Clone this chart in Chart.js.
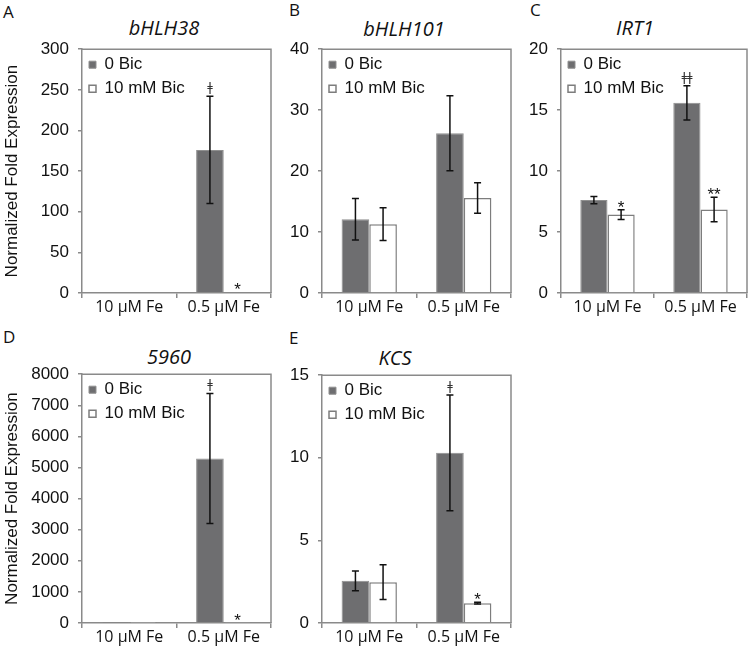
<!DOCTYPE html>
<html><head><meta charset="utf-8">
<script src="https://cdn.jsdelivr.net/npm/chart.js@4.4.1/dist/chart.umd.min.js"></script>
<style>
html,body{margin:0;padding:0;background:#fff;}
#wrap{position:relative;width:750px;height:650px;overflow:hidden;}
canvas{position:absolute;}
.lbl{position:absolute;font-family:'Open Sans',sans-serif;font-size:17px;color:#111;line-height:1;white-space:nowrap;}
.ttl{position:absolute;font-family:'Open Sans',sans-serif;font-style:italic;font-size:20px;color:#111;line-height:1;white-space:nowrap;transform:translateX(-50%);}
</style></head><body>
<div id="wrap">
  <div class="lbl" style="left:3px;top:3px">A</div>
  <div class="lbl" style="left:289px;top:1px">B</div>
  <div class="lbl" style="left:530px;top:1px">C</div>
  <div class="lbl" style="left:3px;top:328px">D</div>
  <div class="lbl" style="left:289px;top:329px">E</div>
  <div class="ttl" style="left:164px;top:18px">bHLH38</div>
  <div class="ttl" style="left:404px;top:19px">bHLH101</div>
  <div class="ttl" style="left:635px;top:18px">IRT1</div>
  <div class="ttl" style="left:169px;top:347px">5960</div>
  <div class="ttl" style="left:395px;top:348px">KCS</div>
  <canvas id="cA"></canvas>
  <canvas id="cB"></canvas>
  <canvas id="cC"></canvas>
  <canvas id="cD"></canvas>
  <canvas id="cE"></canvas>
</div>
<script>
// ---------- DATA ----------
const categories = ['10 µM Fe', '0.5 µM Fe'];
const seriesNames = ['0 Bic', '10 mM Bic'];
const yTitle = 'Normalized Fold Expression';

// bHLH38 (A)
const bHLH38_ctrl = [1.0, 176];
const bHLH38_ctrlErr = [0, 66];
const bHLH38_bic = [1.0, 1.2];
const bHLH38_bicErr = [0, 0];
const bHLH38_ctrlMarks = ['', 'ǂ'];
const bHLH38_bicMarks = ['', '*'];
const bHLH38_ticks = [0, 50, 100, 150, 200, 250, 300];

// bHLH101 (B)
const bHLH101_ctrl = [12.1, 26.2];
const bHLH101_ctrlErr = [3.4, 6.15];
const bHLH101_bic = [11.3, 15.6];
const bHLH101_bicErr = [2.7, 2.5];
const bHLH101_ctrlMarks = ['', ''];
const bHLH101_bicMarks = ['', ''];
const bHLH101_ticks = [0, 10, 20, 30, 40];

// IRT1 (C)
const IRT1_ctrl = [7.62, 15.6];
const IRT1_ctrlErr = [0.3, 1.4];
const IRT1_bic = [6.43, 6.85];
const IRT1_bicErr = [0.4, 1.0];
const IRT1_ctrlMarks = ['', 'ǂǂ'];
const IRT1_bicMarks = ['*', '**'];
const IRT1_ticks = [0, 5, 10, 15, 20];

// 5960 (D)
const g5960_ctrl = [10, 5290];
const g5960_ctrlErr = [0, 2090];
const g5960_bic = [10, 15];
const g5960_bicErr = [0, 0];
const g5960_ctrlMarks = ['', 'ǂ'];
const g5960_bicMarks = ['', '*'];
const g5960_ticks = [0, 1000, 2000, 3000, 4000, 5000, 6000, 7000, 8000];

// KCS (E)
const KCS_ctrl = [2.55, 10.3];
const KCS_ctrlErr = [0.6, 3.5];
const KCS_bic = [2.47, 1.2];
const KCS_bicErr = [1.05, 0.05];
const KCS_ctrlMarks = ['', 'ǂ'];
const KCS_bicMarks = ['', '*'];
const KCS_ticks = [0, 5, 10, 15];

// ---------- STYLE ----------
const AXIS_COLOR = '#8a8a8a';
const DARK = '#6e6e70';
const DARK_BORDER = '#8f8f8f';
const LIGHT_BORDER = '#7d7d7d';
Chart.defaults.font.family = "'Liberation Sans', Arial, sans-serif";
Chart.defaults.color = '#111';

const frame = {
  id: 'frame',
  afterLayout(chart) {
    // keep the in-plot legend inside the plot area
    const lg = chart.legend;
    if (lg) {
      const dy = chart.chartArea.top - lg.top;
      lg.top += dy; lg.bottom += dy;
      const dx = chart.chartArea.left - lg.left;
      lg.left += dx; lg.right += dx;
    }
  },
  afterDatasetsDraw(chart) {
    const a = chart.chartArea, ctx = chart.ctx;
    ctx.save();
    ctx.strokeStyle = AXIS_COLOR; ctx.lineWidth = 1.5;
    ctx.beginPath();
    ctx.moveTo(a.left, a.top); ctx.lineTo(a.right, a.top); ctx.lineTo(a.right, a.bottom);
    ctx.stroke();
    ctx.restore();
  }
};

const errorBars = {
  id: 'errorBars',
  afterDatasetsDraw(chart) {
    const ctx = chart.ctx, ys = chart.scales.y;
    ctx.save();
    chart.data.datasets.forEach((ds, di) => {
      const meta = chart.getDatasetMeta(di);
      meta.data.forEach((bar, i) => {
        const v = ds.data[i], e = ds.errors[i];
        const top = ys.getPixelForValue(v + e);
        if (e > 0) {
          const bot = ys.getPixelForValue(v - e);
          ctx.strokeStyle = '#111'; ctx.lineWidth = 1.5;
          ctx.beginPath();
          ctx.moveTo(bar.x, top); ctx.lineTo(bar.x, bot);
          ctx.moveTo(bar.x - 3.5, top); ctx.lineTo(bar.x + 3.5, top);
          ctx.moveTo(bar.x - 3.5, bot); ctx.lineTo(bar.x + 3.5, bot);
          ctx.stroke();
        }
        const m = ds.marks[i];
        if (m) {
          ctx.textAlign = 'center';
          ctx.textBaseline = 'alphabetic';
          if (m.indexOf('*') >= 0) {
            ctx.font = "17px 'Liberation Sans', Arial";
            ctx.fillStyle = '#111';
            ctx.fillText(m, bar.x, top + 3);
          } else {
            ctx.font = "12px 'DejaVu Sans'";
            ctx.fillStyle = '#333';
            ctx.fillText(m, bar.x, top - 5);
          }
        }
      });
    });
    ctx.restore();
  }
};

function makePanel(id, geom, ctrl, ctrlErr, bic, bicErr, ctrlMarks, bicMarks, ticks, showTitle) {
  const padTop = 18, xH = 30;
  const cv = document.getElementById(id);
  const w = geom.canvasRight - geom.canvasLeft;
  const h = padTop + (geom.plotBottom - geom.plotTop) + xH;
  cv.width = w; cv.height = h;
  cv.style.left = geom.canvasLeft + 'px';
  cv.style.top = (geom.plotTop - padTop) + 'px';
  cv.style.width = w + 'px'; cv.style.height = h + 'px';
  const yW = geom.plotLeft - geom.canvasLeft;
  const step = ticks[1] - ticks[0];
  new Chart(cv, {
    type: 'bar',
    data: {
      labels: categories,
      datasets: [
        {label: seriesNames[0], data: ctrl, errors: ctrlErr, marks: ctrlMarks,
         backgroundColor: DARK, borderColor: DARK_BORDER, borderWidth: 1},
        {label: seriesNames[1], data: bic, errors: bicErr, marks: bicMarks,
         backgroundColor: '#ffffff', borderColor: LIGHT_BORDER, borderWidth: 1.5}
      ]
    },
    options: {
      responsive: false, animation: false, devicePixelRatio: 1,
      layout: {padding: {top: padTop, right: geom.canvasRight - geom.plotRight, left: 0, bottom: 0}},
      datasets: {bar: {categoryPercentage: 0.585, barPercentage: 1.0}},
      plugins: {
        legend: {
          position: 'chartArea', align: 'start',
          labels: {boxWidth: 7, boxHeight: 7, padding: 7, color: '#111',
                   font: {size: 17, family: "'Liberation Sans', Arial"}}
        },
        tooltip: {enabled: false}
      },
      scales: {
        x: {
          afterFit: s => { s.height = xH; },
          grid: {display: true, drawOnChartArea: false, drawTicks: true, tickLength: 5, color: AXIS_COLOR, lineWidth: 1.5, offset: true},
          border: {display: true, color: AXIS_COLOR, width: 1.5},
          ticks: {padding: 0, color: '#111', font: {size: 16, family: "'Open Sans'"}}
        },
        y: {
          min: ticks[0], max: ticks[ticks.length - 1],
          afterFit: s => { s.width = yW; },
          grid: {display: true, drawOnChartArea: false, drawTicks: true, tickLength: 4, color: AXIS_COLOR, lineWidth: 1.5},
          border: {display: true, color: AXIS_COLOR, width: 1.5},
          ticks: {stepSize: step, padding: 9, color: '#111', font: {size: 17}, callback: v => String(v)},
          title: {display: showTitle, text: yTitle, color: '#111', font: {size: 17}, padding: {top: 2, bottom: 0}}
        }
      }
    },
    plugins: [frame, errorBars]
  });
}

makePanel('cA', {canvasLeft: 0, canvasRight: 280, plotLeft: 82, plotRight: 271, plotTop: 48, plotBottom: 293},
  bHLH38_ctrl, bHLH38_ctrlErr, bHLH38_bic, bHLH38_bicErr, bHLH38_ctrlMarks, bHLH38_bicMarks, bHLH38_ticks, true);
makePanel('cB', {canvasLeft: 280, canvasRight: 520, plotLeft: 322, plotRight: 511, plotTop: 48, plotBottom: 293},
  bHLH101_ctrl, bHLH101_ctrlErr, bHLH101_bic, bHLH101_bicErr, bHLH101_ctrlMarks, bHLH101_bicMarks, bHLH101_ticks, false);
makePanel('cC', {canvasLeft: 520, canvasRight: 750, plotLeft: 561, plotRight: 747, plotTop: 48, plotBottom: 293},
  IRT1_ctrl, IRT1_ctrlErr, IRT1_bic, IRT1_bicErr, IRT1_ctrlMarks, IRT1_bicMarks, IRT1_ticks, false);
makePanel('cD', {canvasLeft: 0, canvasRight: 280, plotLeft: 82, plotRight: 271, plotTop: 373, plotBottom: 623},
  g5960_ctrl, g5960_ctrlErr, g5960_bic, g5960_bicErr, g5960_ctrlMarks, g5960_bicMarks, g5960_ticks, true);
makePanel('cE', {canvasLeft: 280, canvasRight: 520, plotLeft: 322, plotRight: 511, plotTop: 374, plotBottom: 623},
  KCS_ctrl, KCS_ctrlErr, KCS_bic, KCS_bicErr, KCS_ctrlMarks, KCS_bicMarks, KCS_ticks, false);
</script>
</body></html>
